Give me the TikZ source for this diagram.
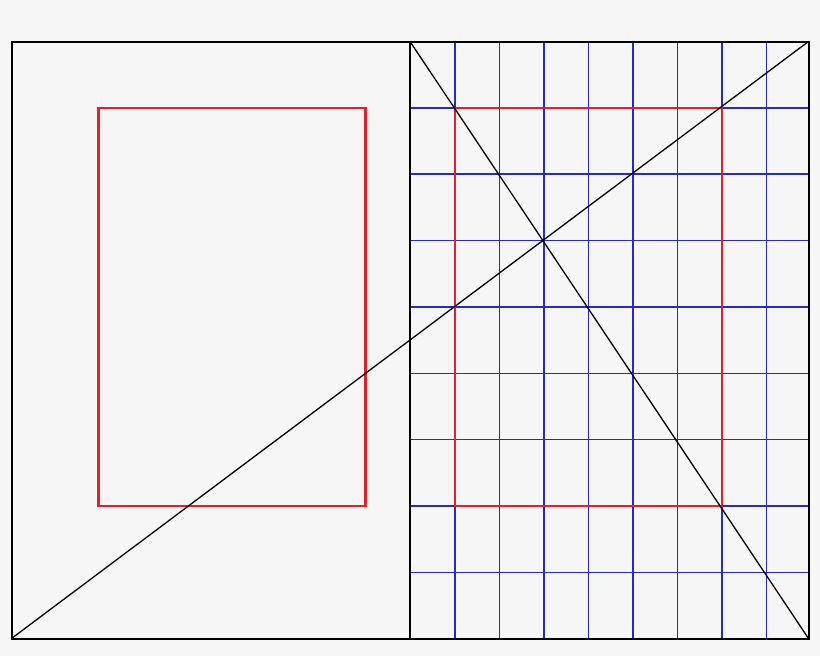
\documentclass[tikz,border=0pt]{standalone}
\definecolor{bggray}{RGB}{246,246,246}
\definecolor{gridblue}{RGB}{40,40,210}
\definecolor{textred}{RGB}{230,30,40}
\begin{document}
\begin{tikzpicture}[x=1pt,y=-1pt]
    \fill[bggray] (0,0) rectangle (820,656);
    \useasboundingbox (0,0) rectangle (820,656);
    % page corners
    \coordinate (tl) at (11.5,41.5);
    \coordinate (tm) at (410,41.5);
    \coordinate (tr) at (808.5,41.5);
    \coordinate (bl) at (11.5,638.5);
    \coordinate (bm) at (410,638.5);
    \coordinate (br) at (808.5,638.5);
    % ninths of the right page
    \foreach \k in {1,...,8}
    \draw[gridblue,line width=1.5pt] (410.5+44.5*\k,41.5) -- (410.5+44.5*\k,638.5);
    \foreach \k in {1,...,8}
    \draw[gridblue,line width=1.5pt] (410,41.5+66.35*\k) -- (808.5,41.5+66.35*\k);
    % text blocks
    \draw[textred,line width=2.2pt] (410.5+44.5,41.5+66.35) rectangle (410.5+44.5*7,41.5+66.35*7);
    \draw[textred,line width=2.2pt] (410-44.5,41.5+66.35) rectangle (410-44.5*7,41.5+66.35*7);
    % diagonals
    \draw[line width=1.3pt] (bl) -- (tr);
    \draw[line width=1.3pt] (tm) -- (br);
    % the spread
    \draw[line width=2pt] (tl) rectangle (br);
    \draw[line width=2pt] (tm) -- (bm);
\end{tikzpicture}
\end{document}
